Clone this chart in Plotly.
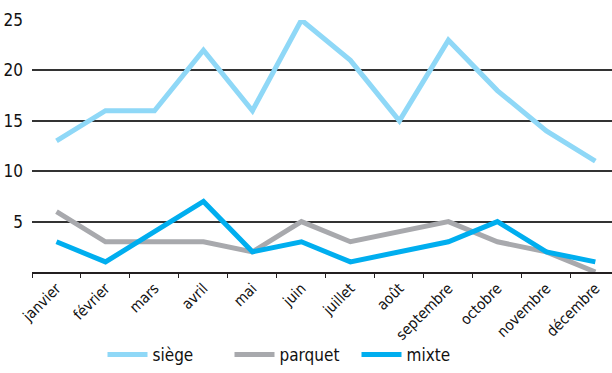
import plotly.graph_objects as go

mois = ["janvier", "février", "mars", "avril", "mai", "juin", "juillet", "août",
        "septembre", "octobre", "novembre", "décembre"]
siege = [13, 16, 16, 22, 16, 25, 21, 15, 23, 18, 14, 11]
parquet = [6, 3, 3, 3, 2, 5, 3, 4, 5, 3, 2, 0]
mixte = [3, 1, 4, 7, 2, 3, 1, 2, 3, 5, 2, 1]
y_ticks = [5, 10, 15, 20, 25]

FONT = "DejaVu Sans Condensed, Liberation Sans Narrow, Roboto, sans-serif"

fig = go.Figure()
for name, vals, col in [("siège", siege, "#8fd8f7"),
                        ("parquet", parquet, "#a8a9ad"),
                        ("mixte", mixte, "#00aeef")]:
    fig.add_trace(go.Scatter(x=mois, y=vals, name=name, mode="lines",
                             line=dict(color=col, width=5), cliponaxis=False))

fig.update_layout(
    width=612, height=373,
    margin=dict(l=32, r=0, t=20, b=100),
    paper_bgcolor="white", plot_bgcolor="white",
    font=dict(family=FONT, size=14, color="#111111"),
    showlegend=True,
    legend=dict(orientation="h", x=0.45, xanchor="center", y=-0.40, yanchor="bottom",
                bgcolor="rgba(0,0,0,0)", font=dict(size=17), entrywidth=72, itemwidth=40),
)
fig.update_xaxes(range=[-0.5, 11.34], showgrid=False, showline=True, linecolor="#231f20",
                 linewidth=1.5, ticks="outside", tickson="boundaries", ticklen=4,
                 tickcolor="#231f20", tickangle=-45, tickfont=dict(size=15),
                 zeroline=False)
fig.update_yaxes(range=[0, 25], tickvals=y_ticks, showgrid=True, gridcolor="#333333",
                 gridwidth=1.5, zeroline=False, showline=False, ticks="",
                 ticklabelstandoff=8, tickfont=dict(size=17))

fig.write_html("out.html")
